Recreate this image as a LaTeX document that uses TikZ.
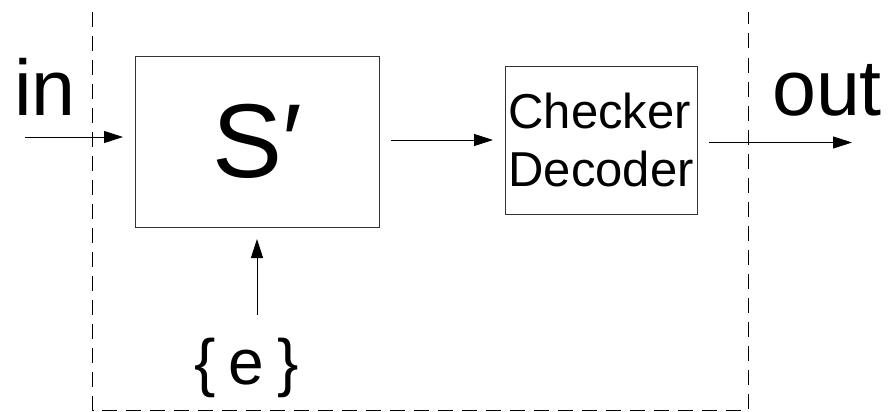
\documentclass[tikz,border=0pt]{standalone}
\usepackage{fontspec}
\setmainfont{Liberation Sans}
\usetikzlibrary{arrows.meta}
\newcommand{\fsz}[1]{\fontsize{#1}{#1}\selectfont}
\begin{document}
\begin{tikzpicture}[x=1pt,y=-1pt,
    box/.style={draw=black!80,line width=0.9pt,inner sep=0pt,outer sep=12pt},
    arr/.style={-{Triangle[length=19pt,width=12pt]},line width=0.9pt}]
    \useasboundingbox (0,0) rectangle (894,412);
    % system boundary, open at the top
    \draw[dash pattern=on 15pt off 9pt,line width=0.9pt]
      (92.5,12) -- (92.5,410.5) -- (748,410.5) -- (748,12);
    \node[box,minimum width=244pt,minimum height=171pt] (S) at (257,141.5) {\fsz{105}S′};
    \node[box,minimum width=192pt,minimum height=148pt,align=left,
      font=\fontsize{49}{58}\selectfont] (chk) at (601,140) {Checker\\Decoder};
    \node[inner sep=0pt,outer sep=23pt,anchor=base] (err) at (246.5,384)
      {\fsz{64}\{\hspace{0.2em}e\hspace{0.2em}\}};
    \node[anchor=base] (inlbl) at (45,115) {\fsz{79}in};
    \node[anchor=base] (outlbl) at (827,115) {\fsz{79}out};
    \coordinate (inpt) at (25,137);
    \coordinate (outpt) at (852,142.5);
    \draw[arr] (inpt) -- (S.west |- inpt);
    \draw[arr] (S.east |- chk) -- (chk.west);
    \draw[arr] (chk.east |- outpt) -- (outpt);
    \draw[arr] (err.north -| S.south) -- (S.south);
  \end{tikzpicture}
\end{document}
